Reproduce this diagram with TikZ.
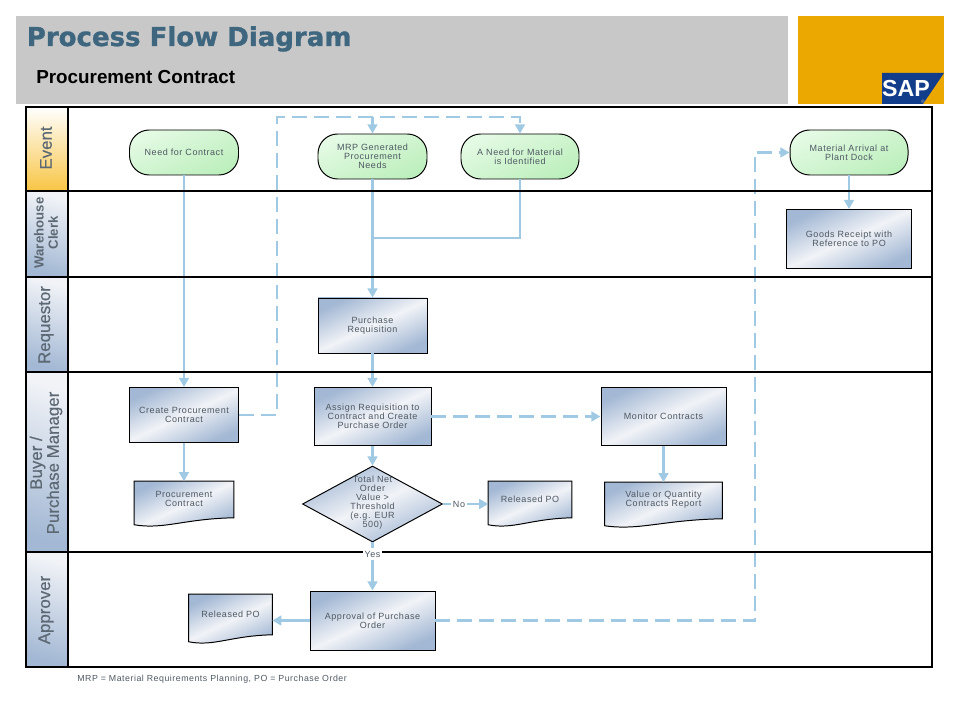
\documentclass[tikz,border=0pt]{standalone}
\usepackage{fontspec}
\setmainfont{Liberation Sans}
\newfontfamily\titlefont{DejaVu Sans Bold}[FakeBold=1.2]
\newfontfamily\lanefont{Liberation Sans}[FakeBold=0.5]
\newfontfamily\spacedfont{Liberation Sans}[LetterSpace=6.0]
\usetikzlibrary{positioning,arrows.meta,calc,shapes.geometric}
\definecolor{bandgray}{HTML}{C8C8C8}
\definecolor{sapgold}{HTML}{EAA800}
\definecolor{sapblue}{HTML}{123D8A}
\definecolor{titleblue}{HTML}{3F667F}
\definecolor{flowblue}{HTML}{A0CAE4}
\definecolor{boxblue}{HTML}{A3B8D4}
\definecolor{boxlight}{HTML}{F1F3F7}
\definecolor{textgray}{HTML}{4E5862}
\definecolor{lanegray}{HTML}{5C6873}
\definecolor{eventgold}{HTML}{F8C544}
\definecolor{eventgreen}{HTML}{BDEFBD}
\definecolor{eventlight}{HTML}{E4FAE4}
\tikzset{
  boxsize/.style 2 args={minimum width=#1*0.025cm, minimum height=#2*0.025cm, inner sep=0pt},
  boxtext/.style={font=\spacedfont\fontsize{6.4}{6.4}\selectfont, text=textgray, align=center},
  boxfill/.style={draw=black, line width=0.7pt, top color=boxblue, bottom color=boxblue, middle color=boxlight, shading angle=25},
  taskbox/.style={boxfill, boxtext},
  eventbox/.style={draw=black, line width=0.7pt, rounded corners=14pt, top color=eventlight, bottom color=eventgreen, shading angle=25, boxtext},
  flow/.style={draw=flowblue, line width=1.5pt, -{Triangle[length=6.5pt,width=7pt]}},
  flowplain/.style={draw=flowblue, line width=1.5pt},
  flowdash/.style={flow, dash pattern=on 10.6pt off 5pt},
  lanehead/.style={draw=none, top color=boxlight, bottom color=boxblue, shading angle=-15},
  lanetext/.style={font=\lanefont\fontsize{#1}{#1}\selectfont, text=lanegray, rotate=90, align=center},
  lanerule/.style={draw=black, line width=1.5pt}
}
\newcommand{\docbox}[5]{
  \node[boxsize={#3}{#4}] (#1) at (#2) {};
  \path[boxfill] (#1.north west) -- (#1.north east) -- ($(#1.south east)+(0,-9)$)
    .. controls ($(#1.south)+(0,-8)$) and ($(#1.south west)!.3!(#1.south east)+(0,3)$) .. ($(#1.south west)+(0,-2)$) -- cycle;
  \node[boxtext] (#1-text) at ($(#1)+(0,-5)$) {#5};
}
\begin{document}
\begin{tikzpicture}[x=0.025cm,y=-0.025cm]
\useasboundingbox (0,0) rectangle (960,720);
% header
\fill[bandgray] (16,16) rectangle (788,104);
\fill[sapgold] (798,16) rectangle (944,104);
\fill[sapblue] (882,73) -- (944,73) -- (923,104) -- (882,104) -- cycle;
\node[font=\bfseries\fontsize{16.5}{16.5}\selectfont, text=white, inner sep=0pt] (saplogo) at (906,88.5) {SAP};
\node[font=\fontsize{3.5}{3.5}\selectfont, text=gray!60, inner sep=0pt] (sapmark) at (923,102) {®};
\node[font=\titlefont\fontsize{18.5}{18.5}\selectfont, text=titleblue, anchor=base west, inner sep=0pt] (maintitle) at (26.5,46) {Process Flow Diagram};
\node[font=\bfseries\fontsize{13.4}{13.4}\selectfont, anchor=base west, inner sep=0pt] (subtitle) at (36,83.5) {Procurement Contract};
% lane headers
\fill[top color=white, bottom color=eventgold] (26,107) rectangle (68,191);
\fill[lanehead] (26,191) rectangle (68,277);
\fill[lanehead] (26,277) rectangle (68,372);
\fill[lanehead] (26,372) rectangle (68,552);
\fill[lanehead] (26,552) rectangle (68,667);
\node[lanetext=12] (laneevent) at (46,148) {Event};
\node[lanetext=9.6, font=\bfseries\fontsize{9.4}{10}\selectfont] (lanewarehouse) at (46,233) {Warehouse\\Clerk};
\node[lanetext=12] (lanerequestor) at (46,325) {Requestor};
\node[lanetext=12] (lanebuyer) at (46,463) {Buyer /\\Purchase Manager};
\node[lanetext=12] (laneapprover) at (46,610) {Approver};
% tasks and events
\node[eventbox, boxsize={109}{45}] (need) at (184,152.5) {Need for Contract};
\node[eventbox, boxsize={109}{45}] (mrp) at (372.5,156.5) {MRP Generated\\Procurement\\Needs};
\node[eventbox, boxsize={118}{45}] (aneed) at (520,156.5) {A Need for Material\\is Identified};
\node[eventbox, boxsize={118}{45}] (arrival) at (849,152.5) {Material Arrival at\\Plant Dock};
\node[taskbox, boxsize={125}{59}] (goods) at (849,239) {Goods Receipt with\\Reference to PO};
\node[taskbox, boxsize={109}{55}] (requisition) at (372.5,325.5) {Purchase\\Requisition};
\node[taskbox, boxsize={109}{55}] (create) at (184,415) {Create Procurement\\Contract};
\node[taskbox, boxsize={117}{58}] (assign) at (372.5,416.5) {Assign Requisition to\\Contract and Create\\Purchase Order};
\node[taskbox, boxsize={125}{58}] (monitor) at (663.5,416.5) {Monitor Contracts};
\node[taskbox, boxsize={125}{59}] (approval) at (372.5,620.5) {Approval of Purchase\\Order};
\node[diamond, boxfill, boxsize={140}{76}] (threshold) at (372.5,504) {};
\node[boxtext] (threshold-text) at (372.5,503) {Total Net\\Order\\Value >\\Threshold\\(e.g. EUR\\500)};
\docbox{contractdoc}{184,504}{99}{45}{Procurement\\Contract}
\docbox{releaseddoc}{530,504}{83}{45}{Released PO}
\docbox{reportdoc}{663.5,505}{117}{45}{Value or Quantity\\Contracts Report}
\docbox{approveddoc}{230.5,619}{83}{49}{Released PO}
\node[boxtext, fill=white, inner sep=1.5pt] (nolabel) at (459,504) {No};
% connectors
\coordinate (topbus) at (277,117);
\coordinate (rightbus) at (755,400);
\coordinate (mrptap) at (mrp.north |- topbus);
\coordinate (joinpoint) at (372.5,238);
\draw[flow] (need.south) -- (create.north);
\draw[flow] (mrp.south) -- (requisition.north);
\draw[flowplain] (aneed.south) |- (joinpoint);
\draw[flow] (requisition.south) -- (assign.north);
\draw[flow] (assign.south) -- (threshold.north);
\draw[flow] (create.south) -- (contractdoc.north);
\draw[flow] (monitor.south) -- (reportdoc.north);
\draw[flow] (arrival.south) -- (goods.north);
\draw[flow] (approval.west) -- (approval.west -| approveddoc.east);
\draw[flowplain] (threshold.east) -- (nolabel);
\draw[flow] (nolabel) -- (releaseddoc.west);
\draw[flowdash] (create.east) -| (topbus) -| (aneed.north);
\draw[flowdash] (mrptap) -- (mrp.north);
\draw[flowdash] (assign.east) -- (monitor.west);
\draw[flowdash] (approval.east) -| (rightbus) |- (arrival.west);
% lanes
\draw[lanerule] (26,107) rectangle (932,667);
\draw[lanerule] (68,107) -- (68,667);
\draw[lanerule] (26,191) -- (932,191);
\draw[lanerule] (26,277) -- (932,277);
\draw[lanerule] (26,372) -- (932,372);
\draw[lanerule] (26,552) -- (932,552);
\node[boxtext, fill=white, inner sep=1.5pt] (yeslabel) at (372.5,554) {Yes};
\draw[flowplain] (threshold.south) -- (yeslabel);
\draw[flow] (yeslabel) -- (approval.north);
\node[font=\spacedfont\fontsize{6.25}{6.25}\selectfont, text=textgray, anchor=base west, inner sep=0pt] (footnote) at (77,681) {MRP = Material Requirements Planning, PO = Purchase Order};
\end{tikzpicture}
\end{document}
